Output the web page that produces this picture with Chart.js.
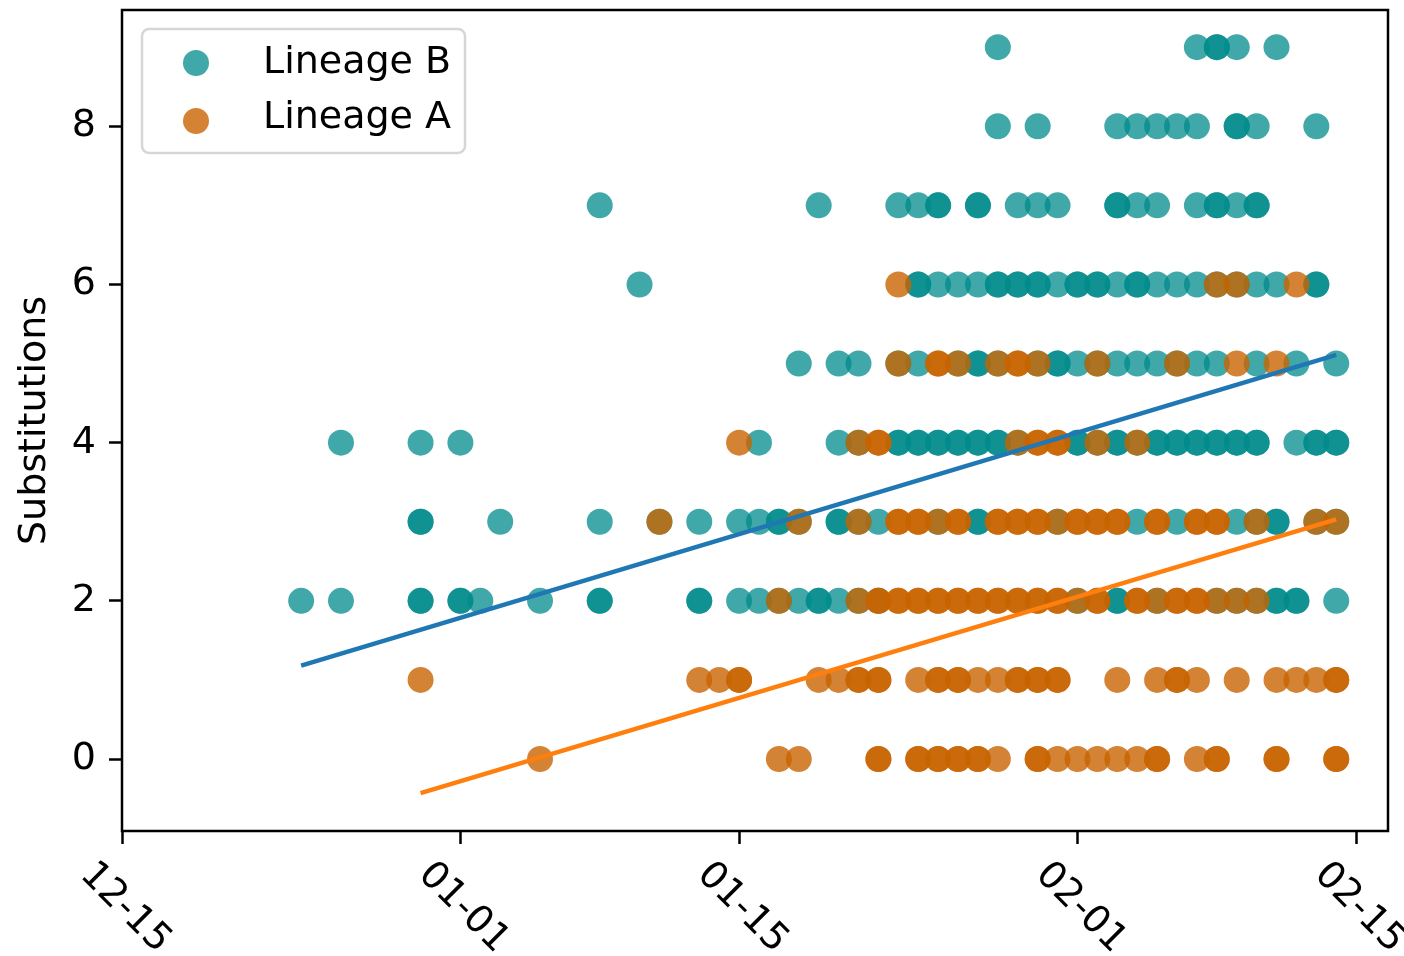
<!DOCTYPE html>
<html>
<head>
<meta charset="utf-8">
<script src="https://cdn.jsdelivr.net/npm/chart.js@4.4.1/dist/chart.umd.min.js"></script>
<style>
  html, body { margin: 0; padding: 0; background: #fff; }
  canvas { display: block; }
</style>
</head>
<body>
<canvas id="myChart" width="1404" height="956"></canvas>
<script>
// x values are days since 2019-12-15
const tickDays = [0, 17, 31, 48, 62];
const tickLabels = ['12-15', '01-01', '01-15', '02-01', '02-15'];
const yTicks = [0, 2, 4, 6, 8];

// Lineage B: sampling day per substitution count
const B_9 = [44, 54, 55, 55, 56, 58];
const B_8 = [44, 46, 50, 51, 52, 53, 54, 56, 56, 57, 60];
const B_7 = [24, 35, 39, 40, 41, 41, 43, 43, 45, 46, 47, 50, 50, 51, 52, 54, 55, 55, 56, 57, 57];
const B_6 = [26, 40, 40, 41, 42, 43, 44, 44, 45, 45, 46, 46, 47, 48, 48, 49, 49, 50, 51, 51, 52, 53, 54, 55, 56, 57, 58, 60, 60];
const B_5 = [34, 36, 37, 39, 40, 42, 43, 43, 44, 46, 47, 47, 48, 49, 50, 51, 52, 53, 54, 55, 57, 59, 61];
const B_4 = [11, 15, 17, 32, 36, 37, 39, 39, 40, 40, 41, 41, 42, 42, 43, 43, 44, 44, 45, 48, 48, 49, 50, 50, 51, 52, 52, 53, 53, 54, 54, 55, 55, 56, 56, 57, 57, 59, 60, 60, 61, 61];
const B_3 = [15, 15, 19, 24, 27, 29, 31, 32, 33, 33, 34, 36, 36, 37, 38, 41, 43, 43, 47, 51, 53, 56, 57, 58, 58, 60, 61];
const B_2 = [9, 11, 15, 15, 17, 17, 18, 21, 24, 24, 29, 29, 31, 32, 33, 34, 35, 35, 36, 37, 38, 48, 50, 50, 52, 55, 56, 57, 58, 58, 59, 59, 61];

// Lineage A
const A_6 = [39, 55, 56, 59];
const A_5 = [39, 41, 41, 42, 44, 45, 45, 46, 49, 53, 56, 58];
const A_4 = [31, 37, 38, 38, 45, 46, 46, 47, 47, 49, 51];
const A_3 = [27, 34, 37, 39, 39, 40, 40, 41, 42, 42, 44, 44, 45, 45, 46, 46, 47, 48, 48, 49, 49, 50, 50, 52, 52, 54, 54, 55, 55, 57, 60, 61];
const A_2 = [33, 37, 38, 38, 39, 39, 40, 40, 41, 41, 42, 42, 43, 43, 44, 44, 45, 45, 46, 46, 47, 47, 48, 49, 49, 51, 51, 52, 53, 53, 54, 54, 55, 56, 57];
const A_1 = [15, 29, 30, 31, 31, 35, 36, 37, 37, 38, 38, 40, 41, 41, 42, 42, 43, 44, 45, 45, 46, 46, 47, 47, 50, 52, 53, 53, 54, 56, 58, 59, 60, 61, 61];
const A_0 = [21, 33, 34, 38, 38, 40, 40, 41, 41, 42, 42, 43, 43, 44, 46, 46, 47, 48, 49, 50, 51, 52, 52, 54, 55, 55, 58, 58, 61, 61];

// regression lines (start/end)
const fitBDays = [9, 61];
const fitBValues = [1.18, 5.11];
const fitADays = [15, 61];
const fitAValues = [-0.43, 3.03];

const TEAL = 'rgba(0, 139, 139, 0.75)';
const ORANGE = 'rgba(200, 100, 0, 0.8)';
const FONT_SIZE = 38;
const FONT = FONT_SIZE + 'px "DejaVu Sans"';

function toPoints(rows) {
  const pts = [];
  rows.forEach(([subs, days]) => days.forEach(d => pts.push({x: d, y: subs})));
  return pts;
}
function fitPoints(days, vals) {
  return days.map((d, i) => ({x: d, y: vals[i]}));
}

const lineageB = toPoints([[9, B_9], [8, B_8], [7, B_7], [6, B_6], [5, B_5], [4, B_4], [3, B_3], [2, B_2]]);
const lineageA = toPoints([[6, A_6], [5, A_5], [4, A_4], [3, A_3], [2, A_2], [1, A_1], [0, A_0]]);

// box around the plot, rotated date labels, legend inside the axes
const decorations = {
  id: 'decorations',
  afterDraw(chart) {
    const {ctx, chartArea: a} = chart;
    ctx.save();
    ctx.strokeStyle = '#000';
    ctx.lineWidth = 2.5;
    ctx.strokeRect(a.left, a.top, a.right - a.left, a.bottom - a.top);

    const xs = chart.scales.x;
    ctx.font = FONT;
    ctx.fillStyle = '#000';
    ctx.textAlign = 'center';
    ctx.textBaseline = 'middle';
    xs.ticks.forEach((t, i) => {
      const px = xs.getPixelForValue(t.value);
      ctx.save();
      ctx.translate(px + 3, a.bottom + 77);
      ctx.rotate(Math.PI / 4);
      ctx.fillText(tickLabels[i], 0, 0);
      ctx.restore();
    });

    // legend
    const lx = 142, ly = 29, lw = 323, lh = 124, r = 7;
    ctx.beginPath();
    ctx.moveTo(lx + r, ly);
    ctx.arcTo(lx + lw, ly, lx + lw, ly + lh, r);
    ctx.arcTo(lx + lw, ly + lh, lx, ly + lh, r);
    ctx.arcTo(lx, ly + lh, lx, ly, r);
    ctx.arcTo(lx, ly, lx + lw, ly, r);
    ctx.closePath();
    ctx.fillStyle = 'rgba(255,255,255,0.8)';
    ctx.fill();
    ctx.strokeStyle = '#d6d6d6';
    ctx.lineWidth = 2.5;
    ctx.stroke();

    const entries = [['Lineage B', TEAL, 63, 73], ['Lineage A', ORANGE, 121, 128]];
    entries.forEach(([label, color, cy, by]) => {
      ctx.beginPath();
      ctx.arc(196, cy, 13, 0, Math.PI * 2);
      ctx.fillStyle = color;
      ctx.fill();
      ctx.fillStyle = '#000';
      ctx.textAlign = 'left';
      ctx.textBaseline = 'alphabetic';
      ctx.fillText(label, 263, by);
    });
    ctx.restore();
  }
};

const ctx = document.getElementById('myChart');
new Chart(ctx, {
  type: 'scatter',
  data: {
    datasets: [
      {label: 'Lineage B', data: lineageB, backgroundColor: TEAL, pointRadius: 13, borderWidth: 0, order: 3},
      {label: 'Lineage A', data: lineageA, backgroundColor: ORANGE, pointRadius: 13, borderWidth: 0, order: 2},
      {label: 'fit B', data: fitPoints(fitBDays, fitBValues), showLine: true, borderColor: '#1f77b4', borderWidth: 4.5, pointRadius: 0, order: 1},
      {label: 'fit A', data: fitPoints(fitADays, fitAValues), showLine: true, borderColor: '#ff7f0e', borderWidth: 4.5, pointRadius: 0, order: 1}
    ]
  },
  options: {
    responsive: false,
    animation: false,
    layout: {autoPadding: false, padding: {top: 0, right: 16, left: 0, bottom: 0}},
    plugins: {
      legend: {display: false},
      tooltip: {enabled: false}
    },
    scales: {
      x: {
        type: 'linear',
        min: 0,
        max: 63.6,
        afterBuildTicks: s => { s.ticks = tickDays.map(v => ({value: v})); },
        afterFit: s => { s.height = 125; },
        ticks: {display: false},
        grid: {drawOnChartArea: false, drawTicks: true, tickLength: 13, tickWidth: 2.5, color: '#000'},
        border: {display: false}
      },
      y: {
        type: 'linear',
        min: -0.91,
        max: 9.47,
        afterBuildTicks: s => { s.ticks = yTicks.map(v => ({value: v})); },
        afterFit: s => { s.width = 122; s.paddingTop = 10; s.paddingBottom = 0; },
        ticks: {font: {family: 'DejaVu Sans', size: FONT_SIZE}, color: '#000', padding: 13},
        grid: {drawOnChartArea: false, drawTicks: true, tickLength: 13, tickWidth: 2.5, color: '#000'},
        border: {display: false},
        title: {display: true, text: 'Substitutions', font: {family: 'DejaVu Sans', size: FONT_SIZE}, color: '#000', padding: {top: 12, bottom: 0}}
      }
    }
  },
  plugins: [decorations]
});
</script>
</body>
</html>
